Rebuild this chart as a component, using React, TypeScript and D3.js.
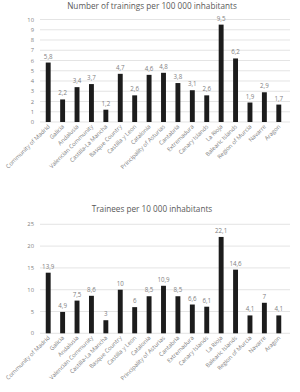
import * as d3 from "d3";

const regions = [
  "Community of Madrid",
  "Galicia",
  "Andalusia",
  "Valencian Community",
  "Castilla-La Mancha",
  "Basque Country",
  "Castilla y Leon",
  "Catalonia",
  "Principality of Asturias",
  "Cantabria",
  "Extremadura",
  "Canary Islands",
  "La Rioja",
  "Balearic Islands",
  "Region of Murcia",
  "Navarre",
  "Aragon",
];

const trainings = [5.8, 2.2, 3.4, 3.7, 1.2, 4.7, 2.6, 4.6, 4.8, 3.8, 3.1, 2.6, 9.5, 6.2, 1.9, 2.9, 1.7];
const trainees = [13.9, 4.9, 7.5, 8.6, 3, 10, 6, 8.5, 10.9, 8.5, 6.6, 6.1, 22.1, 14.6, 4.1, 7, 4.1];

const topTicks = [0, 1, 2, 3, 4, 5, 6, 7, 8, 9, 10];
const bottomTicks = [0, 5, 10, 15, 20, 25];

const FONT = "'Open Sans', 'DejaVu Sans', sans-serif";
const TEXT = "#7f7f7f";

interface PanelProps {
  title: string;
  titleY: number;
  values: number[];
  ticks: number[];
  max: number;
  top: number;
  bottom: number;
}

function Panel({ title, titleY, values, ticks, max, top, bottom }: PanelProps) {
  const x = d3.scaleBand<string>().domain(regions).range([41, 286]).paddingInner(0.66).paddingOuter(0.33);
  const y = d3.scaleLinear().domain([0, max]).range([bottom, top]);
  const fmt = (v: number) => String(v).replace(".", ",");

  return (
    <g fontFamily={FONT}>
      <text x={152} y={titleY} textAnchor="middle" fontSize={8.2} fill="#595959">
        {title}
      </text>
      {ticks.map((t) => (
        <g key={t}>
          <line x1={40} x2={290} y1={y(t)} y2={y(t)} stroke="#d9d9d9" strokeWidth={0.7} />
          <text x={34} y={y(t) + 2} textAnchor="end" fontSize={5.8} fill={TEXT}>
            {t}
          </text>
        </g>
      ))}
      {values.map((v, i) => {
        const name = regions[i];
        const bx = x(name) ?? 0;
        const cx = bx + x.bandwidth() / 2;
        return (
          <g key={name}>
            <rect x={bx} y={y(v)} width={x.bandwidth()} height={y(0) - y(v)} fill="#1c1c1c" />
            <text x={cx} y={y(v) - 4} textAnchor="middle" fontSize={6.2} fill={TEXT}>
              {fmt(v)}
            </text>
            <text
              transform={`translate(${cx + 2},${bottom + 5}) rotate(-45)`}
              textAnchor="end"
              fontSize={5.8}
              fill={TEXT}
            >
              {name}
            </text>
          </g>
        );
      })}
    </g>
  );
}

export default function App() {
  return (
    <svg width={300} height={392} style={{ position: "absolute", left: 0, top: 0, background: "#fff" }}>
      <Panel
        title="Number of trainings per 100 000 inhabitants"
        titleY={9}
        values={trainings}
        ticks={topTicks}
        max={10}
        top={19.5}
        bottom={122}
      />
      <Panel
        title="Trainees per 10 000 inhabitants"
        titleY={212}
        values={trainees}
        ticks={bottomTicks}
        max={25}
        top={224.3}
        bottom={333.3}
      />
    </svg>
  );
}
